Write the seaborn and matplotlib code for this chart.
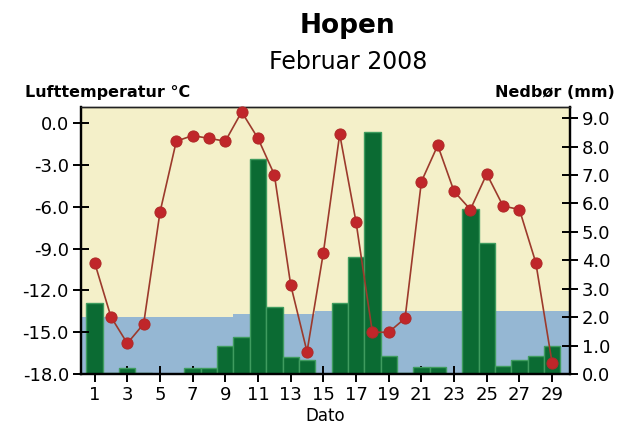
import numpy as np
import pandas as pd
import matplotlib
matplotlib.use("Agg")
import matplotlib.pyplot as plt
import seaborn as sns

# data
dager = list(range(1, 30))
temperatur = [-10.0, -13.9, -15.8, -14.4, -6.4, -1.3, -0.9, -1.1, -1.3, 0.8,
              -1.1, -3.7, -11.6, -16.4, -9.3, -0.8, -7.1, -15.0, -15.0, -14.0,
              -4.2, -1.6, -4.9, -6.2, -3.65, -5.95, -6.2, -10.0, -17.2]
nedbor = [2.5, 0.05, 0.2, 0.05, 0.02, 0.02, 0.2, 0.2, 1.0, 1.3,
          7.55, 2.35, 0.6, 0.5, 0.0, 2.5, 4.1, 8.5, 0.65, 0.05,
          0.25, 0.25, 0.0, 5.8, 4.6, 0.3, 0.5, 0.65, 1.0]
# blue band (mm scale), stepwise
band_x = [0.15, 9.5, 14.5, 30.1]
band_mm = [2.0, 2.1, 2.23, 2.23]

temp_ticks = np.arange(-18, 0.1, 3)
mm_ticks = np.arange(0, 9.1, 1)
x_ticks = list(range(1, 30, 2))

sns.set_style("ticks")
plt.rcParams["font.family"] = ["DejaVu Sans"]
plt.rcParams["axes.unicode_minus"] = False
plt.rcParams["text.color"] = "black"

gul = "#f4f0c9"
bla = "#95b7d3"
gronn = "#0b6b33"
kant = "#3f9c5f"

fig = plt.figure(figsize=(6.21, 4.28), dpi=100)
ax = fig.add_axes([0.130, 0.126, 0.788, 0.624])
ax.set_facecolor(gul)

# band and bars on the precipitation axis (right)
ax.fill_between(band_x, 0, band_mm, step="post", color=bla, linewidth=0, zorder=0)
df = pd.DataFrame({"dag": dager, "nedbor": nedbor})
sns.barplot(data=df, x="dag", y="nedbor", native_scale=True, width=1,
            color=gronn, edgecolor=kant, linewidth=1, saturation=1, ax=ax, zorder=2)
ax.set_xlim(0.15, 30.1)
ax.set_ylim(0, 9.39)
ax.set_xticks(x_ticks)
ax.set_xticklabels([str(d) for d in x_ticks])
ax.set_ylabel("")
ax.set_xlabel("Dato", fontsize=12, labelpad=2, color="black")

# temperature on a twin axis (left)
ax2 = ax.twinx()
sns.lineplot(x=dager, y=temperatur, ax=ax2, color="#9c3a2c", linewidth=1.2,
             marker="o", markersize=8, markerfacecolor="#c0262a",
             markeredgecolor="#b02a28", clip_on=False, zorder=5)
ax2.set_ylim(-18, 1.15)
ax2.set_ylabel("")
ax2.set_xlim(0.15, 30.1)

# twinx puts the ticks the other way round, so swap them here
ax.yaxis.tick_right()
ax.set_yticks(mm_ticks)
ax.set_yticklabels(["%.1f" % v for v in mm_ticks])
ax2.yaxis.tick_left()
ax2.set_yticks(temp_ticks)
ax2.set_yticklabels(["%.1f" % v for v in temp_ticks])

for a in (ax, ax2):
    for s in ["left", "right", "bottom"]:
        a.spines[s].set_linewidth(1.6)
        a.spines[s].set_color("black")
    a.spines["top"].set_linewidth(1.0)
    a.spines["top"].set_color("#222222")
    a.tick_params(axis="both", direction="inout", length=11, width=1.4,
                  labelsize=13, pad=3, colors="black")

fig.text(0.56, 0.939, "Hopen", ha="center", va="center",
         fontsize=19, fontweight="bold")
fig.text(0.56, 0.855, "Februar 2008", ha="center", va="center", fontsize=17)
fig.text(0.040, 0.785, "Lufttemperatur °C", ha="left", va="center",
         fontsize=11.5, fontweight="bold")
fig.text(0.990, 0.785, "Nedbør (mm)", ha="right", va="center",
         fontsize=11.5, fontweight="bold")

fig.savefig("out.png", dpi=100, facecolor="white")
